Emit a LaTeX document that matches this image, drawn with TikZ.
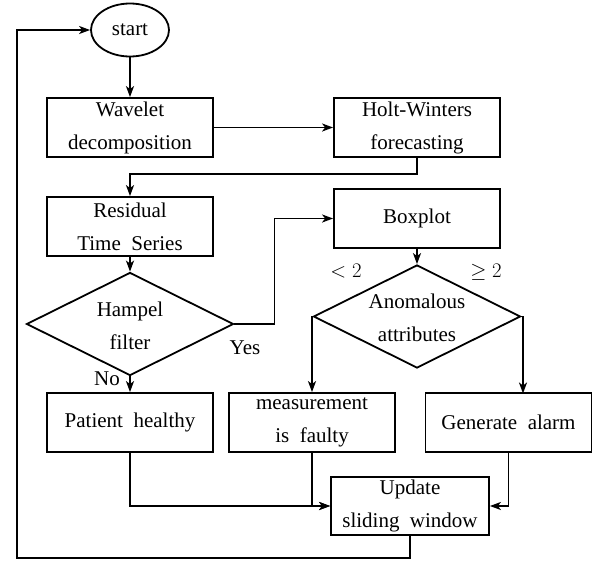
\documentclass[tikz,border=0pt]{standalone}
\usepackage{fontspec}
\setmainfont{Liberation Serif}
\usetikzlibrary{shapes.geometric,arrows.meta}
\begin{document}
\begin{tikzpicture}[x=1pt,y=-1pt,
  every node/.style={font=\fontsize{21}{33}\selectfont},
  proc/.style={draw,line width=1.8pt,rectangle,minimum width=166pt,minimum height=59pt,inner sep=0pt,align=center},
  dia/.style={draw,line width=1.8pt,diamond,minimum width=207pt,minimum height=103pt,inner sep=0pt},
  lbl/.style={align=center,inner sep=0pt},
  arr/.style={line width=1.8pt,-{Stealth[length=11pt,width=8pt,inset=3pt]}}]
\useasboundingbox (0,0) rectangle (598,563);
\node[draw,line width=1.8pt,ellipse,minimum width=78pt,minimum height=53pt,inner sep=0pt] (start) at (130,30) {start};
\node[proc] (wav) at (130,127.5) {Wavelet\\decomposition};
\node[proc] (holt) at (417,127.5) {Holt-Winters\\forecasting};
\node[proc] (res) at (130,226.5) {Residual\\Time\ \ Series};
\node[dia] (ham) at (130,324) {};
\node[lbl] (hamt) at (130,326) {Hampel\\filter};
\node[proc] (box) at (417,218.5) {Boxplot};
\node[dia] (ano) at (417,316.5) {};
\node[lbl] (anot) at (417,317.5) {Anomalous\\attributes};
\node[proc] (pat) at (130,422.5) {Patient\ \ healthy};
\node[proc] (meas) at (312,422.5) {measurement\\is\ \ faulty};
\node[proc] (alarm) at (508.5,422.5) {Generate\ \ alarm};
\node[proc,minimum width=158pt,minimum height=58pt] (upd) at (410,506) {Update\\sliding\ \ window};
\node[lbl] (yes) at (245,348) {Yes};
\node[lbl] (no) at (107,379) {No};
\node[lbl] (lt) at (346,271) {$<2$};
\node[lbl] (ge) at (486,272) {$\geq2$};
\coordinate (lb) at (17,558);
\coordinate (ar) at (523,393.5);
\draw[arr] (start) -- (wav);
\draw[arr] (wav) -- (holt);
\draw[arr] (holt.south) -- ++(0,16) -| (res.north);
\draw[arr] (res) -- (ham.north);
\draw[arr] (ham.east) -- ++(40,0) |- (box.west);
\draw[arr] (ham.south) -- (pat.north);
\draw[arr] (box) -- (ano.north);
\draw[arr] (ano.west) -| (meas.north);
\draw[arr] (ano.east) -| (ar);
\draw[arr] (pat.south) |- (upd.west);
\draw[arr] (meas.south) |- (upd.west);
\draw[arr] (alarm.south) |- (upd.east);
\draw[arr] (upd.south) |- (lb) |- (start.west);
\end{tikzpicture}
\end{document}
